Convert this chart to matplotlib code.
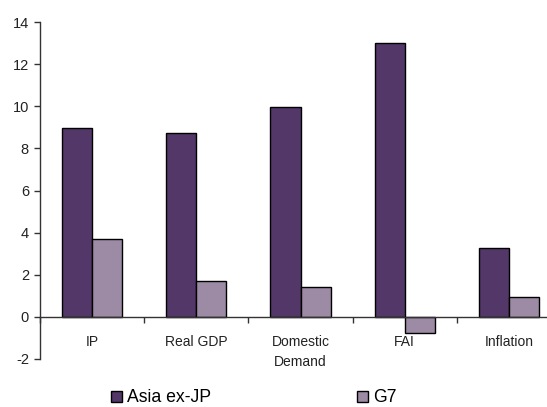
import matplotlib
matplotlib.use("Agg")
import matplotlib.pyplot as plt
import numpy as np

categories = ["IP", "Real GDP", "Domestic\nDemand", "FAI", "Inflation"]
asia_ex_jp = [8.95, 8.75, 9.95, 13.0, 3.25]
g7 = [3.72, 1.68, 1.41, -0.76, 0.92]
series_names = ["Asia ex-JP", "G7"]
y_ticks = [-2, 0, 2, 4, 6, 8, 10, 12, 14]

plt.rcParams["font.family"] = ["Liberation Sans", "DejaVu Sans"]

W, H = 547, 407
fig = plt.figure(figsize=(W / 100, H / 100), dpi=100)
ax = fig.add_axes([40 / W, (H - 359) / H, 521 / W, 337 / H])

dark = "#533769"
light = "#9d8aa5"
bw = 0.288
x = np.arange(len(categories))
ax.bar(x - bw / 2, asia_ex_jp, bw, color=dark, edgecolor="black", linewidth=1.0,
       zorder=3, label=series_names[0])
ax.bar(x + bw / 2, g7, bw, color=light, edgecolor="black", linewidth=1.0,
       zorder=3, label=series_names[1])

ax.set_xlim(-0.5, len(categories) - 0.5)
ax.set_ylim(-2, 14)
ax.set_yticks(y_ticks)
ax.set_yticklabels([str(v) for v in y_ticks])

for side in ("top", "right"):
    ax.spines[side].set_visible(False)
ax.spines["bottom"].set_position(("data", 0))
ax.spines["bottom"].set_zorder(4)
ax.spines["left"].set_color("#333333")
ax.spines["bottom"].set_color("#333333")
ax.spines["left"].set_linewidth(1.0)
ax.spines["bottom"].set_linewidth(1.0)

# boundary ticks on the zero line, category names centred below
ax.set_xticks(np.arange(-0.5, len(categories), 1.0))
ax.set_xticklabels([])
ax.set_xticks(x, minor=True)
ax.set_xticklabels(categories, minor=True, linespacing=1.55, va="top")
ax.tick_params(axis="x", which="major", direction="out", length=4, width=1,
               color="#333333")
ax.tick_params(axis="x", which="minor", length=0, pad=13, labelsize=10,
               labelcolor="#222222")
ax.tick_params(axis="y", direction="out", length=4, width=1, pad=4,
               labelsize=10.5, color="#333333", labelcolor="#222222")

handles, labels = ax.get_legend_handles_labels()
fig.legend(handles, labels, loc="center left",
           bbox_to_anchor=(111 / W, 1 - 398 / H), ncol=2, frameon=False,
           fontsize=12.7, handlelength=0.6, handleheight=0.6,
           handletextpad=0.3, columnspacing=8.3, borderpad=0,
           borderaxespad=0)

fig.savefig("out.png", dpi=100, facecolor="white")
